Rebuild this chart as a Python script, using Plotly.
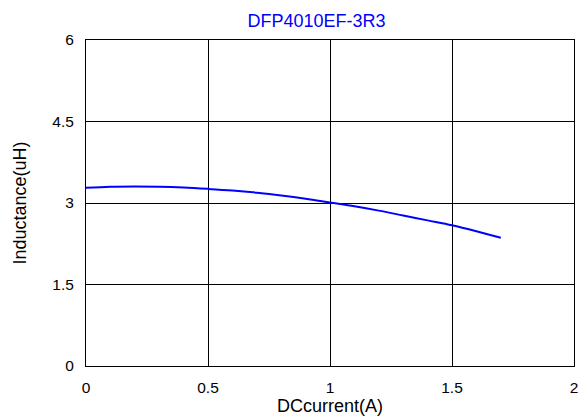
import plotly.graph_objects as go

current = [0.0, 0.1, 0.2, 0.3, 0.4, 0.5, 0.6, 0.7, 0.8, 0.9, 1.0, 1.1, 1.2, 1.3, 1.4, 1.5, 1.6, 1.7]
inductance = [3.28, 3.30, 3.305, 3.30, 3.285, 3.26, 3.23, 3.19, 3.14, 3.08, 3.01, 2.94, 2.86, 2.77, 2.68, 2.59, 2.48, 2.36]
x_ticks = [0, 0.5, 1, 1.5, 2]
x_labels = ["0", "0.5", "1", "1.5", "2"]
y_ticks = [0, 1.5, 3, 4.5, 6]
y_labels = ["0", "1.5", "3", "4.5", "6"]

fig = go.Figure()
fig.add_trace(go.Scatter(x=current, y=inductance, mode="lines",
                         line=dict(color="#0000ff", width=2, shape="spline"),
                         showlegend=False))

font = "Liberation Sans, Arial, sans-serif"
fig.update_layout(
    width=584, height=416,
    margin=dict(l=86, r=6, t=40, b=50),
    paper_bgcolor="white", plot_bgcolor="white",
    title=dict(text="DFP4010EF-3R3", x=316.5 / 584, xanchor="center",
               y=1 - 20.5 / 416, yanchor="middle",
               font=dict(family=font, size=18, color="#0000ff")),
    font=dict(family=font, size=15, color="black"),
)
fig.update_xaxes(range=[0, 2], tickvals=x_ticks, ticktext=x_labels,
                 showgrid=True, gridcolor="black", gridwidth=1,
                 showline=True, linecolor="black", linewidth=1, mirror=True,
                 zeroline=False, ticks="", ticklen=0, ticklabelstandoff=7,
                 tickfont=dict(size=15.5),
                 title=dict(text="DCcurrent(A)", standoff=0, font=dict(size=18)))
fig.update_yaxes(range=[0, 6], tickvals=y_ticks, ticktext=y_labels,
                 showgrid=True, gridcolor="black", gridwidth=1,
                 showline=True, linecolor="black", linewidth=1, mirror=True,
                 zeroline=False, ticks="", ticklen=0, ticklabelstandoff=8,
                 tickfont=dict(size=15.5),
                 title=dict(text="Inductance(uH)", standoff=21, font=dict(size=18)))

fig.write_html("out.html")
